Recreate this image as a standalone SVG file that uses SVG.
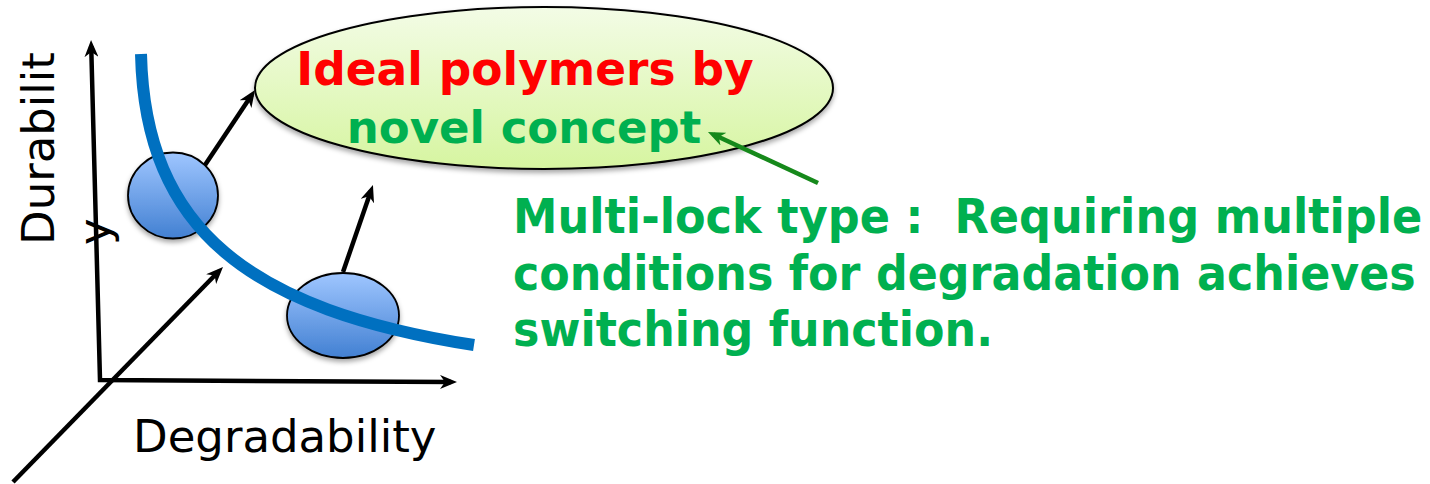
<svg xmlns="http://www.w3.org/2000/svg" width="1430" height="484" viewBox="0 0 1430 484">
<style>
.axis{fill:none;stroke:#000;stroke-width:4.5}
.arr{fill:none;stroke:#000;stroke-width:4.5}
.lbl{font-family:"DejaVu Sans","Liberation Sans",sans-serif;font-size:45px;fill:#000}
.bold{font-family:"DejaVu Sans","Liberation Sans",sans-serif;font-weight:bold}
.green{fill:#00b050}
.red{fill:#ff0000}
.blob{fill:url(#gBlob);stroke:#000;stroke-width:1.8;filter:url(#shadow)}
</style>
<defs>
<linearGradient id="gBlob" x1="0" y1="0" x2="0" y2="1">
<stop offset="0" stop-color="#9fc6ff"/>
<stop offset="1" stop-color="#4280d2"/>
</linearGradient>
<linearGradient id="gIdeal" x1="0" y1="0" x2="0" y2="1">
<stop offset="0" stop-color="#f3fce6"/>
<stop offset="1" stop-color="#d6f5a0"/>
</linearGradient>
<filter id="shadow" x="-20%" y="-20%" width="140%" height="150%">
<feDropShadow dx="0" dy="3" stdDeviation="2.5" flood-color="#000" flood-opacity="0.35"/>
</filter>
<marker id="ah" markerUnits="userSpaceOnUse" markerWidth="17" markerHeight="14" refX="11" refY="7" orient="auto-start-reverse">
<path d="M0,0 L17,7 L0,14 L5,7 Z" fill="#000"/>
</marker>
<marker id="ahg" markerUnits="userSpaceOnUse" markerWidth="17" markerHeight="14" refX="11" refY="7" orient="auto">
<path d="M0,0 L17,7 L0,14 L5,7 Z" fill="#16891b"/>
</marker>
</defs>

<g id="axes">
<path class="axis" d="M91.2,46 L100,380 L451,382" marker-start="url(#ah)" marker-end="url(#ah)"/>
<line class="axis" x1="13" y1="482" x2="218.8" y2="271.3" marker-end="url(#ah)"/>
</g>

<g id="label-durability">
<text class="lbl" transform="translate(54,245) rotate(-90)">Durabilit</text>
<text class="lbl" transform="translate(110,245) rotate(-90)">y</text>
</g>
<g id="label-degradability">
<text class="lbl" x="133" y="452">Degradability</text>
</g>

<g id="ideal">
<ellipse cx="544" cy="88" rx="289" ry="81" fill="url(#gIdeal)" stroke="#000" stroke-width="2" filter="url(#shadow)"/>
<text class="bold red" x="525" y="85" font-size="45.5" text-anchor="middle">Ideal polymers by</text>
<text class="bold green" x="524" y="143" font-size="45" text-anchor="middle">novel concept</text>
</g>

<g id="blob1"><ellipse class="blob" cx="173" cy="195.5" rx="45" ry="43"/></g>
<g id="blob2"><ellipse class="blob" cx="343" cy="315.5" rx="56" ry="42.5"/></g>

<g id="curve">
<path d="M141,54 C145,230 250,310 474,345" fill="none" stroke="#0070c0" stroke-width="12"/>
</g>

<g id="connectors">
<line class="arr" x1="205" y1="165" x2="251.7" y2="95" marker-end="url(#ah)"/>
<line class="arr" x1="343" y1="272" x2="371" y2="190.7" marker-end="url(#ah)"/>
<line x1="818" y1="183" x2="713.4" y2="134.5" stroke="#16891b" stroke-width="4.5" marker-end="url(#ahg)"/>
</g>

<g id="multilock">
<text class="bold green" font-size="48" xml:space="preserve" transform="translate(513,233) scale(0.93,1)">Multi-lock type :  Requiring multiple</text>
<text class="bold green" font-size="48" transform="translate(513,290) scale(0.925,1)">conditions for degradation achieves</text>
<text class="bold green" font-size="48" transform="translate(513,346) scale(0.925,1)">switching function.</text>
</g>
</svg>
